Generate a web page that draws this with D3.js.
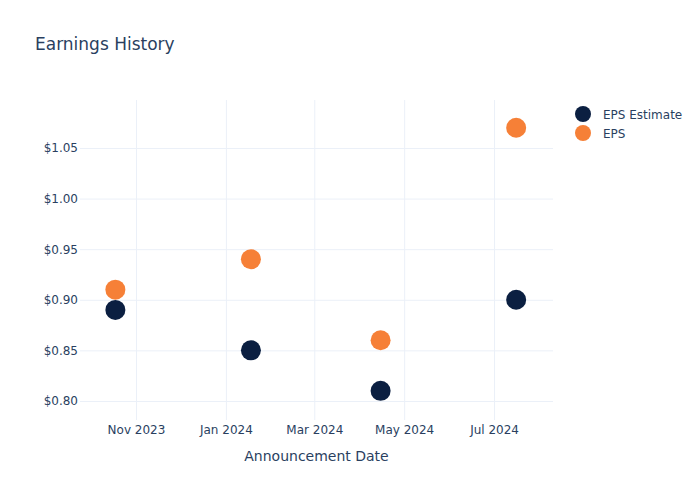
<!DOCTYPE html>
<html><head><meta charset="utf-8">
<script src="https://cdn.jsdelivr.net/npm/d3@7"></script>
<style>body{margin:0;background:#fff;} text{font-family:"DejaVu Sans",Verdana,sans-serif;}</style>
</head><body>
<svg id="chart" width="700" height="500"></svg>
<script>
const dates = ["2023-10-18", "2024-01-18", "2024-04-15", "2024-07-16"];
const epsEstimate = [0.89, 0.85, 0.81, 0.90];
const eps = [0.91, 0.94, 0.86, 1.07];
const yTicks = [0.80, 0.85, 0.90, 0.95, 1.00, 1.05];
const xTicks = ["2023-11-01", "2024-01-01", "2024-03-01", "2024-05-01", "2024-07-01"];
const seriesNames = ["EPS Estimate", "EPS"];
const seriesColors = ["#0b1f41", "#f68037"];

(function () {
const parse = d3.timeParse("%Y-%m-%d");
const svg = d3.select("#chart");
const pl = 80, pr = 553, pt = 100, pb = 420;
const x = d3.scaleTime().domain([parse("2023-09-24"), parse("2024-08-10")]).range([pl, pr]);
const y = d3.scaleLinear().domain([0.7812, 1.0974]).range([pb, pt]);
const ink = "#2a3f5f", grid = "#ebf0f8";

svg.append("text").attr("x", 35).attr("y", 50).attr("font-size", 17).attr("fill", ink).text("Earnings History");

const gx = svg.append("g").attr("transform", `translate(0,${pb})`)
  .call(d3.axisBottom(x).tickValues(xTicks.map(parse)).tickFormat(d3.timeFormat("%b %Y")).tickSize(-(pb - pt)).tickPadding(5));
gx.select(".domain").remove();
gx.selectAll("line").attr("stroke", grid);
gx.selectAll("text").attr("font-size", 12).attr("fill", ink);

const gy = svg.append("g").attr("transform", `translate(${pl},0)`)
  .call(d3.axisLeft(y).tickValues(yTicks).tickFormat(d => "$" + d3.format(".2f")(d)).tickSize(-(pr - pl)).tickPadding(2));
gy.select(".domain").remove();
gy.selectAll("line").attr("stroke", grid);
gy.selectAll("text").attr("font-size", 12).attr("fill", ink);

svg.append("text").attr("x", (pl + pr) / 2).attr("y", 461).attr("text-anchor", "middle")
  .attr("font-size", 14).attr("fill", ink).text("Announcement Date");

[epsEstimate, eps].forEach((vals, i) => {
  svg.append("g").selectAll("circle").data(vals).join("circle")
    .attr("cx", (d, j) => x(parse(dates[j]))).attr("cy", d => y(d)).attr("r", 10)
    .attr("fill", seriesColors[i]);
});

const leg = svg.append("g");
seriesNames.forEach((n, i) => {
  leg.append("circle").attr("cx", 583).attr("cy", 114 + i * 19).attr("r", 8).attr("fill", seriesColors[i]);
  leg.append("text").attr("x", 603).attr("y", 118.5 + i * 19).attr("font-size", 12).attr("fill", ink).text(n);
});
})();
</script>
</body></html>
